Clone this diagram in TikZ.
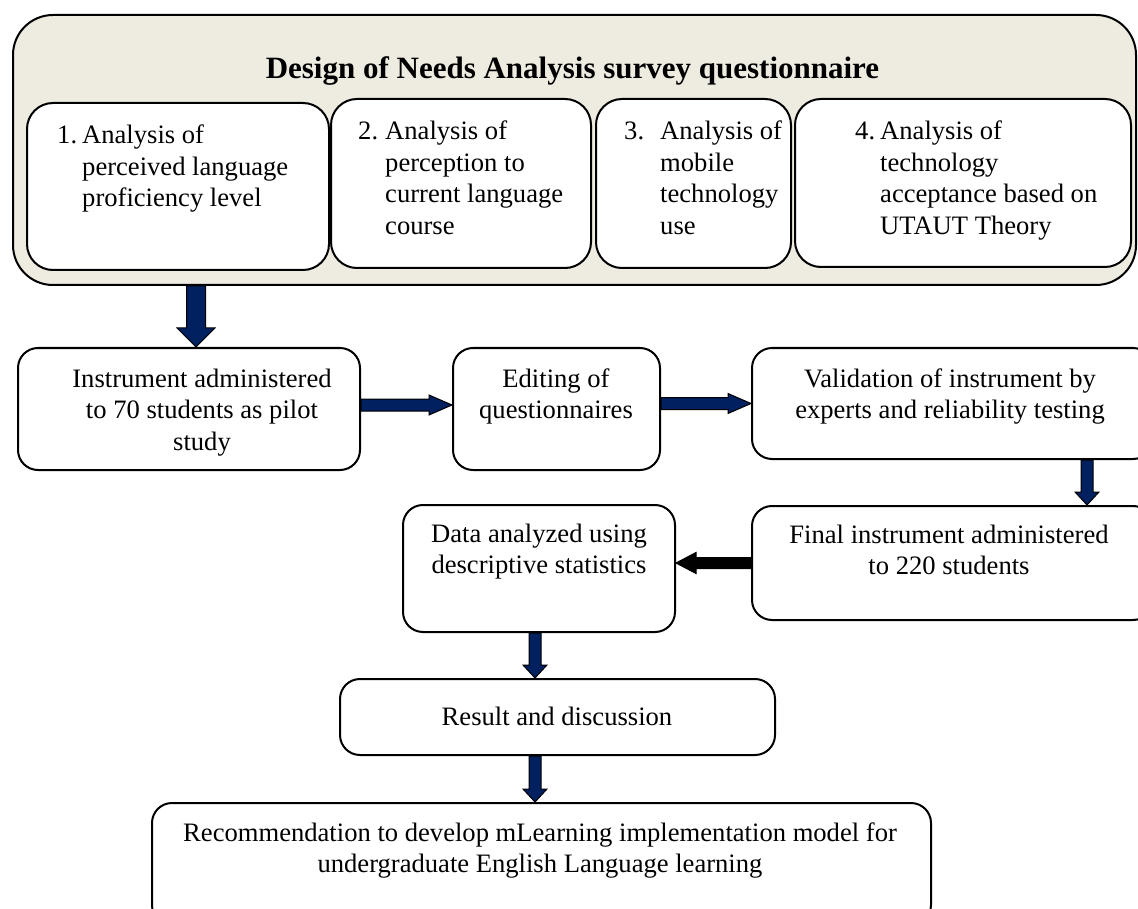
\documentclass[tikz,border=0pt]{standalone}
\usepackage{fontspec}
\setmainfont{Liberation Serif}
\usetikzlibrary{calc}

\definecolor{panel}{HTML}{EEECE1}
\definecolor{navy}{HTML}{002060}

\newcommand\stepfont{\fontsize{26.6}{31.5}\selectfont}
\newcommand\headfont{\fontsize{31}{36}\selectfont\bfseries}

% block arrows: #1 start, #2 tip, #3 half shaft, #4 half head, #5 head length, #6 fill
\newcommand\blockdown[6]{%
  \filldraw[arrowedge, fill=#6] let \p1=(#1), \p2=(#2) in
    (\x1-#3,\y1) -- (\x1+#3,\y1) -- (\x1+#3,\y2+#5) -- (\x1+#4,\y2+#5)
    -- (\x1,\y2) -- (\x1-#4,\y2+#5) -- (\x1-#3,\y2+#5) -- cycle;}
\newcommand\blockright[6]{%
  \filldraw[arrowedge, fill=#6] let \p1=(#1), \p2=(#2) in
    (\x1,\y1+#3) -- (\x2-#5,\y1+#3) -- (\x2-#5,\y1+#4) -- (\x2,\y1)
    -- (\x2-#5,\y1-#4) -- (\x2-#5,\y1-#3) -- (\x1,\y1-#3) -- cycle;}
\newcommand\blockleft[6]{%
  \filldraw[arrowedge, fill=#6] let \p1=(#1), \p2=(#2) in
    (\x1,\y1+#3) -- (\x2+#5,\y1+#3) -- (\x2+#5,\y1+#4) -- (\x2,\y1)
    -- (\x2+#5,\y1-#4) -- (\x2+#5,\y1-#3) -- (\x1,\y1-#3) -- cycle;}

\tikzset{
  panelbox/.style={draw, line width=2pt, fill=panel, rounded corners=40pt, inner sep=0pt},
  topicbox/.style={draw, line width=2pt, fill=white, rounded corners=26pt, inner sep=0pt},
  stepbox/.style={draw, line width=2pt, fill=white, rounded corners=20pt, inner sep=0pt},
  txt/.style={inner sep=0pt, font=\stepfont},
  arrowedge/.style={draw=black, line width=1pt},
}

\begin{document}
\begin{tikzpicture}[x=1pt,y=-1pt]
\useasboundingbox (0,0) rectangle (1138,909);
\clip (0,0) rectangle (1138,909);

% survey design panel
\node[panelbox, minimum width=1123pt, minimum height=270pt] (outer) at (574.5,150) {};
\node[inner sep=0pt, font=\headfont, anchor=base] (title) at (572.5,79)
  {Design of Needs Analysis survey questionnaire};

\node[topicbox, minimum width=302pt, minimum height=167pt] (b1) at (178,186.5) {};
\node[topicbox, minimum width=260pt, minimum height=169pt] (b2) at (461,183.5) {};
\node[topicbox, minimum width=195pt, minimum height=169pt] (b3) at (693.5,183.5) {};
\node[topicbox, minimum width=336pt, minimum height=168pt] (b4) at (963,183) {};

\node[txt, anchor=base west] (t1) at (57,144)
  {\begin{tabular}[t]{@{}l@{}l@{}}\makebox[25pt][l]{1.}&Analysis of\\&perceived language\\&proficiency level\end{tabular}};
\node[txt, anchor=base west] (t2) at (358,140)
  {\begin{tabular}[t]{@{}l@{}l@{}}\makebox[27pt][l]{2.}&Analysis of\\&perception to\\&current language\\&course\end{tabular}};
\node[txt, anchor=base west] (t3) at (624,140)
  {\begin{tabular}[t]{@{}l@{}l@{}}\makebox[36pt][l]{3.}&Analysis of\\&mobile\\&technology\\&use\end{tabular}};
\node[txt, anchor=base west] (t4) at (855,140)
  {\begin{tabular}[t]{@{}l@{}l@{}}\makebox[25pt][l]{4.}&Analysis of\\&technology\\&acceptance based on\\&UTAUT Theory\end{tabular}};

% procedure steps
\node[stepbox, minimum width=342pt, minimum height=122pt] (bA) at (189,409) {};
\node[stepbox, minimum width=207pt, minimum height=122pt] (bB) at (556.5,409) {};
\node[stepbox, minimum width=401pt, minimum height=111pt] (bC) at (952.5,403.5) {};
\node[stepbox, minimum width=401pt, minimum height=114pt] (bD) at (952.5,563) {};
\node[stepbox, minimum width=272pt, minimum height=127pt] (bE) at (539,568.5) {};
\node[stepbox, minimum width=435pt, minimum height=76pt] (bF) at (557.5,717) {};
\node[stepbox, minimum width=779pt, minimum height=122pt] (bG) at (541.5,864) {};

\node[txt, anchor=base] (tA) at (202,387)
  {\begin{tabular}[t]{@{}c@{}}Instrument administered\\to 70 students as pilot\\study\end{tabular}};
\node[txt, anchor=base] (tB) at (556,387)
  {\begin{tabular}[t]{@{}c@{}}Editing of\\questionnaires\end{tabular}};
\node[txt, anchor=base] (tC) at (950,387)
  {\begin{tabular}[t]{@{}c@{}}Validation of instrument by\\experts and reliability testing\end{tabular}};
\node[txt, anchor=base] (tD) at (949,543)
  {\begin{tabular}[t]{@{}c@{}}Final instrument administered\\to 220 students\end{tabular}};
\node[txt, anchor=base] (tE) at (539,542)
  {\begin{tabular}[t]{@{}c@{}}Data analyzed using\\descriptive statistics\end{tabular}};
\node[txt, anchor=base] (tF) at (557,725) {Result and discussion};
\node[txt, anchor=base] (tG) at (540,841)
  {\begin{tabular}[t]{@{}c@{}}Recommendation to develop mLearning implementation model for\\undergraduate English Language learning\end{tabular}};

% connectors
\coordinate (a1) at ([xshift=7pt]bA.north);
\blockdown{outer.south -| a1}{a1}{9.5pt}{19pt}{19pt}{navy}
\coordinate (a2) at ([yshift=4pt]bA.east);
\blockright{a2}{bB.west |- a2}{6pt}{10pt}{23pt}{navy}
\blockright{bB.east |- bC.west}{bC.west}{6pt}{10pt}{23pt}{navy}
\coordinate (a4) at ([xshift=134.5pt]bC.south);
\blockdown{a4}{bD.north -| a4}{6pt}{12pt}{13pt}{navy}
\blockleft{bD.west}{bE.east |- bD.west}{5.5pt}{10.5pt}{20pt}{black}
\coordinate (a6) at ([xshift=-4pt]bE.south);
\blockdown{a6}{bF.north -| a6}{6pt}{12pt}{13pt}{navy}
\blockdown{bF.south -| a6}{bG.north -| a6}{6pt}{12pt}{13pt}{navy}
\end{tikzpicture}
\end{document}
